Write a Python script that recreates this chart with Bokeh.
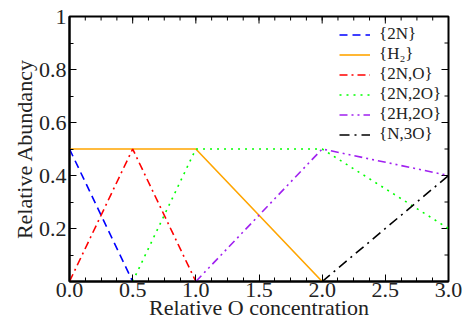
import math
from bokeh.plotting import figure
from bokeh.models import Range1d, FixedTicker, PrintfTickFormatter, Legend, LegendItem
from bokeh.embed import file_html
from bokeh.resources import INLINE

x_2N = [0.0, 0.5]
y_2N = [0.5, 0.0]
x_H2 = [0.0, 1.0, 2.0]
y_H2 = [0.5, 0.5, 0.0]
x_2NO = [0.0, 0.5, 1.0]
y_2NO = [0.0, 0.5, 0.0]
x_2N2O = [0.5, 1.0, 2.0, 3.0]
y_2N2O = [0.0, 0.5, 0.5, 0.2]
x_2H2O = [1.0, 2.0, 3.0]
y_2H2O = [0.0, 0.5, 0.4]
x_N3O = [2.0, 3.0]
y_N3O = [0.0, 0.4]

x_ticks = [0.0, 0.5, 1.0, 1.5, 2.0, 2.5, 3.0]
y_ticks = [0.2, 0.4, 0.6, 0.8, 1.0]
y_tick_labels = {0.2: "0.2", 0.4: "0.4", 0.6: "0.6", 0.8: "0.8", 1.0: "1"}
x_minor = [i * 0.125 for i in range(25)]
y_minor = [i * 0.1 for i in range(11)]
x_label = "Relative O concentration"
y_label = "Relative Abundancy"

FONT = "Liberation Serif"
TXT = "#222222"

p = figure(width=470, height=323, output_backend="svg", toolbar_location=None,
           x_range=Range1d(0, 3), y_range=Range1d(0, 1),
           min_border_left=69, min_border_right=22, min_border_top=16, min_border_bottom=42,
           x_axis_label=x_label, y_axis_label=y_label)
p.grid.visible = False
p.outline_line_color = "black"
p.outline_line_width = 2
p.background_fill_color = "white"
p.border_fill_color = "white"

def style_axis(ax, ticks, minor):
    ax.ticker = FixedTicker(ticks=ticks, minor_ticks=minor)
    ax.major_tick_in = 7
    ax.major_tick_out = 0
    ax.minor_tick_in = 4
    ax.minor_tick_out = 0
    ax.axis_line_width = 2
    ax.axis_line_color = "black"
    ax.major_tick_line_color = "black"
    ax.minor_tick_line_color = "black"
    ax.major_label_text_font = FONT
    ax.major_label_text_font_size = "22px"
    ax.major_label_text_color = TXT
    ax.axis_label_text_font = FONT
    ax.axis_label_text_font_size = "22px"
    ax.axis_label_text_font_style = "normal"
    ax.axis_label_text_color = TXT

style_axis(p.xaxis[0], x_ticks, x_minor)
p.xaxis[0].formatter = PrintfTickFormatter(format="%.1f")
p.xaxis[0].major_label_standoff = 1
p.xaxis[0].axis_label_standoff = -5
style_axis(p.yaxis[0], y_ticks, y_minor)
p.yaxis[0].major_label_overrides = y_tick_labels
p.yaxis[0].major_label_standoff = 3
p.yaxis[0].axis_label_standoff = -1

# mirrored inward ticks on top and right edges (clipped to the frame)
p.scatter(x_ticks, [p.y_range.end] * len(x_ticks), marker="dash", angle=math.pi / 2, size=14,
          line_color="black", line_width=1)
p.scatter(x_minor, [p.y_range.end] * len(x_minor), marker="dash", angle=math.pi / 2, size=8,
          line_color="black", line_width=1)
p.scatter([p.x_range.end] * len(y_ticks), y_ticks, marker="dash", size=14, line_color="black", line_width=1)
p.scatter([p.x_range.end] * len(y_minor), y_minor, marker="dash", size=8, line_color="black", line_width=1)

lw = 1.6
r1 = p.line(x_2N, y_2N, line_color="#0000ff", line_width=lw, line_dash="8 5")
r2 = p.line(x_H2, y_H2, line_color="#ffa500", line_width=lw)
r3 = p.line(x_2NO, y_2NO, line_color="#ff0000", line_width=lw, line_dash="8 4 2 4")
r4 = p.line(x_2N2O, y_2N2O, line_color="#00ff00", line_width=lw, line_dash="2 5")
r5 = p.line(x_2H2O, y_2H2O, line_color="#a020f0", line_width=lw, line_dash="8 4 2 4 2 4")
r6 = p.line(x_N3O, y_N3O, line_color="#000000", line_width=lw, line_dash="10 5 2 5")

legend = Legend(items=[
    LegendItem(label="{2N}", renderers=[r1]),
    LegendItem(label="{H\u2082}", renderers=[r2]),
    LegendItem(label="{2N,O}", renderers=[r3]),
    LegendItem(label="{2N,2O}", renderers=[r4]),
    LegendItem(label="{2H,2O}", renderers=[r5]),
    LegendItem(label="{N,3O}", renderers=[r6]),
], location=(267, 134))
legend.border_line_alpha = 0
legend.background_fill_alpha = 0
legend.label_text_font = FONT
legend.label_text_font_size = "17px"
legend.label_text_color = TXT
legend.glyph_width = 31
legend.glyph_height = 17
legend.label_height = 17
legend.spacing = 0
legend.padding = 3
legend.margin = 0
legend.label_standoff = 9
p.add_layout(legend, "center")

open("out.html", "w").write(file_html(p, INLINE))
